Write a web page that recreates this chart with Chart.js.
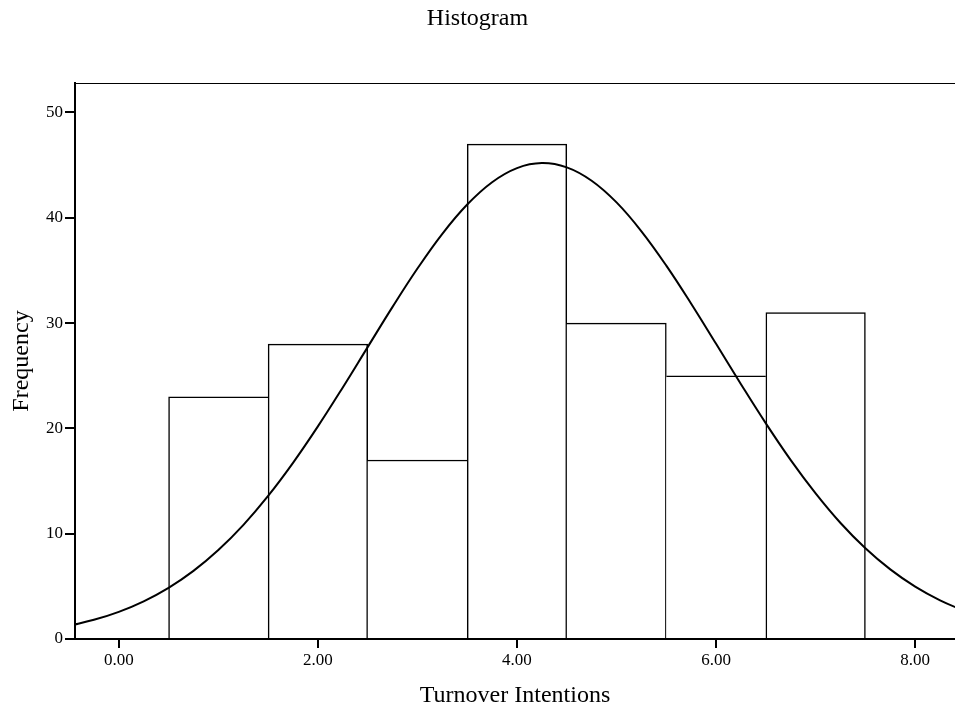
<!DOCTYPE html>
<html>
<head>
<meta charset="utf-8">
<title>Histogram</title>
<script src="https://cdn.jsdelivr.net/npm/chart.js@4.4.1/dist/chart.umd.min.js"></script>
<style>
  body { margin: 0; background: #fff; }
  #wrap { width: 955px; height: 714px; }
</style>
</head>
<body>
<div id="wrap"><canvas id="histChart" width="955" height="714"></canvas></div>
<script>
// bin centres and counts
const binCentres = [1, 2, 3, 4, 5, 6, 7];
const frequencies = [23, 28, 17, 47, 30, 25, 31];

// normal curve
const curveX = [-0.5, -0.25, 0, 0.25, 0.5, 0.75, 1, 1.25, 1.5, 1.75, 2, 2.25, 2.5, 2.75, 3, 3.25, 3.5, 3.75,
  4, 4.25, 4.5, 4.75, 5, 5.25, 5.5, 5.75, 6, 6.25, 6.5, 6.75, 7, 7.25, 7.5, 7.75, 8, 8.25, 8.5];
const curveY = [1.26, 1.82, 2.58, 3.58, 4.86, 6.47, 8.45, 10.82, 13.59, 16.73, 20.19, 23.89, 27.72, 31.54, 35.18, 38.48, 41.26, 43.38,
  44.72, 45.2, 44.79, 43.52, 41.46, 38.72, 35.46, 31.84, 28.03, 24.2, 20.48, 16.99, 13.83, 11.02, 8.62, 6.61, 4.97, 3.67, 2.65];

const xTicks = [0, 2, 4, 6, 8];
const yTicks = [0, 10, 20, 30, 40, 50];

const serif = 'Liberation Serif, Times New Roman, serif';
const edge = 1.5;

// shared bar edges drawn once, by the taller bar
function barBorder(ctx) {
  const i = ctx.dataIndex;
  const cur = frequencies[i];
  const prev = frequencies[i - 1];
  const next = frequencies[i + 1];
  return {
    top: edge,
    bottom: 0,
    left: (prev === undefined || prev < cur) ? edge : 0,
    right: (next === undefined || next <= cur) ? edge : 0
  };
}

const topBorder = {
  id: 'topBorder',
  afterDraw(chart) {
    const a = chart.chartArea;
    const c = chart.ctx;
    c.save();
    c.strokeStyle = '#000';
    c.lineWidth = 1.2;
    c.beginPath();
    c.moveTo(a.left, a.top + 0.5);
    c.lineTo(a.right, a.top + 0.5);
    c.stroke();
    c.restore();
  }
};

new Chart(document.getElementById('histChart'), {
  type: 'bar',
  data: {
    datasets: [
      {
        type: 'line',
        data: curveX.map((x, i) => ({ x: x, y: curveY[i] })),
        borderColor: '#000',
        borderWidth: 2,
        pointRadius: 0,
        tension: 0.4,
        fill: false,
        order: 0
      },
      {
        type: 'bar',
        data: binCentres.map((x, i) => ({ x: x, y: frequencies[i] })),
        backgroundColor: '#fff',
        borderColor: '#000',
        borderWidth: barBorder,
        borderSkipped: false,
        barPercentage: 1,
        categoryPercentage: 1,
        order: 1
      }
    ]
  },
  options: {
    responsive: false,
    animation: false,
    devicePixelRatio: 1,
    layout: { padding: 0 },
    plugins: {
      legend: { display: false },
      tooltip: { enabled: false },
      title: {
        display: true,
        text: 'Histogram',
        color: '#000',
        font: { family: serif, size: 24, weight: 'normal' },
        padding: { top: 4, bottom: 50.2 }
      }
    },
    scales: {
      x: {
        type: 'linear',
        min: -0.44,
        max: 8.4,
        offset: false,
        afterFit: s => { s.height = 75; },
        afterBuildTicks: s => { s.ticks = xTicks.map(v => ({ value: v })); },
        grid: { display: true, drawOnChartArea: false, drawTicks: true, tickLength: 9, color: '#000', lineWidth: 2, offset: false },
        border: { display: true, color: '#000', width: 2 },
        ticks: {
          color: '#000',
          padding: 2,
          maxRotation: 0,
          font: { family: serif, size: 17 },
          callback: v => v.toFixed(2)
        },
        title: {
          display: true,
          text: 'Turnover Intentions',
          color: '#000',
          font: { family: serif, size: 24 },
          padding: { top: 4, bottom: 3.6 }
        }
      },
      y: {
        min: 0,
        max: 52.8,
        afterFit: s => { s.width = 75; },
        afterBuildTicks: s => { s.ticks = yTicks.map(v => ({ value: v })); },
        grid: { display: true, drawOnChartArea: false, drawTicks: true, tickLength: 10, color: '#000', lineWidth: 2 },
        border: { display: true, color: '#000', width: 2 },
        ticks: {
          color: '#000',
          padding: 2,
          font: { family: serif, size: 17 }
        },
        title: {
          display: true,
          text: 'Frequency',
          color: '#000',
          font: { family: serif, size: 24 },
          padding: { top: 7.6, bottom: 0 }
        }
      }
    }
  },
  plugins: [topBorder]
});
</script>
</body>
</html>
